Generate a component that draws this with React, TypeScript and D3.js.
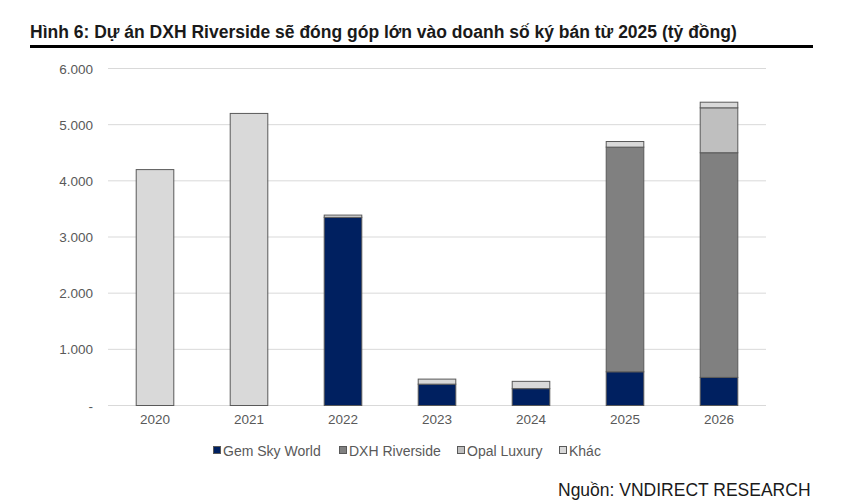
import React from "react";
import * as d3 from "d3";

const years = ["2020", "2021", "2022", "2023", "2024", "2025", "2026"];
const gemSkyWorld = [0, 0, 3350, 380, 300, 600, 500];
const dxhRiverside = [0, 0, 0, 0, 0, 4000, 4000];
const opalLuxury = [0, 0, 0, 0, 0, 0, 800];
const khac = [4200, 5200, 40, 90, 130, 100, 100];
const seriesNames = ["Gem Sky World", "DXH Riverside", "Opal Luxury", "Khác"];
const seriesColors = ["#002060", "#808080", "#bfbfbf", "#d9d9d9"];
const yTicks = [0, 1000, 2000, 3000, 4000, 5000, 6000];

const W = 843;
const H = 501;
const FONT = "'Liberation Sans', Arial, sans-serif";

export default function App() {
  const x = d3.scaleBand().domain(years).range([108, 766]).paddingInner(0.6).paddingOuter(0.3);
  const y = d3.scaleLinear().domain([0, 6000]).range([405.5, 68.5]);

  const rows = years.map((yr, i) => ({
    year: yr,
    "Gem Sky World": gemSkyWorld[i],
    "DXH Riverside": dxhRiverside[i],
    "Opal Luxury": opalLuxury[i],
    "Khác": khac[i],
  }));
  const stacked = d3.stack<any>().keys(seriesNames)(rows);
  const fmt = (v: number) => (v === 0 ? "-" : d3.format(",")(v).replace(/,/g, "."));
  const legendX = [213, 339, 457, 559];

  return (
    <svg width={W} height={H} style={{ position: "absolute", left: 0, top: 0, background: "#fff" }}>
      <text x={30} y={38} fontFamily={FONT} fontWeight="bold" fontSize={17.5} fill="#1a1a1a">
        Hình 6: Dự án DXH Riverside sẽ đóng góp lớn vào doanh số ký bán từ 2025 (tỷ đồng)
      </text>
      <rect x={30} y={45} width={783} height={3} fill="#000" />
      {yTicks.map((t) => (
        <g key={t}>
          <line x1={108} x2={766} y1={y(t)} y2={y(t)} stroke="#d9d9d9" strokeWidth={1} />
          <text x={93} y={y(t) + 5} textAnchor="end" fontFamily={FONT} fontSize={13.5} fill="#595959">
            {fmt(t)}
          </text>
        </g>
      ))}
      {stacked.map((s, si) =>
        s.map((d, i) =>
          d[1] - d[0] > 0 ? (
            <rect
              key={`${si}-${i}`}
              x={x(years[i])!}
              y={y(d[1])}
              width={x.bandwidth()}
              height={y(d[0]) - y(d[1])}
              fill={seriesColors[si]}
              stroke="#595959"
              strokeWidth={1}
            />
          ) : null
        )
      )}
      {years.map((yr) => (
        <text key={yr} x={x(yr)! + x.bandwidth() / 2} y={424} textAnchor="middle" fontFamily={FONT} fontSize={13.5} fill="#595959">
          {yr}
        </text>
      ))}
      {seriesNames.map((n, i) => (
        <g key={n}>
          <rect x={legendX[i] + 0.5} y={446.5} width={7} height={7} fill={seriesColors[i]} stroke="#595959" strokeWidth={1} />
          <text x={legendX[i] + 10} y={455.5} fontFamily={FONT} fontSize={14} fill="#595959">
            {n}
          </text>
        </g>
      ))}
      <text x={558} y={496} fontFamily={FONT} fontSize={17.5} fill="#1a1a1a">
        Nguồn: VNDIRECT RESEARCH
      </text>
    </svg>
  );
}
